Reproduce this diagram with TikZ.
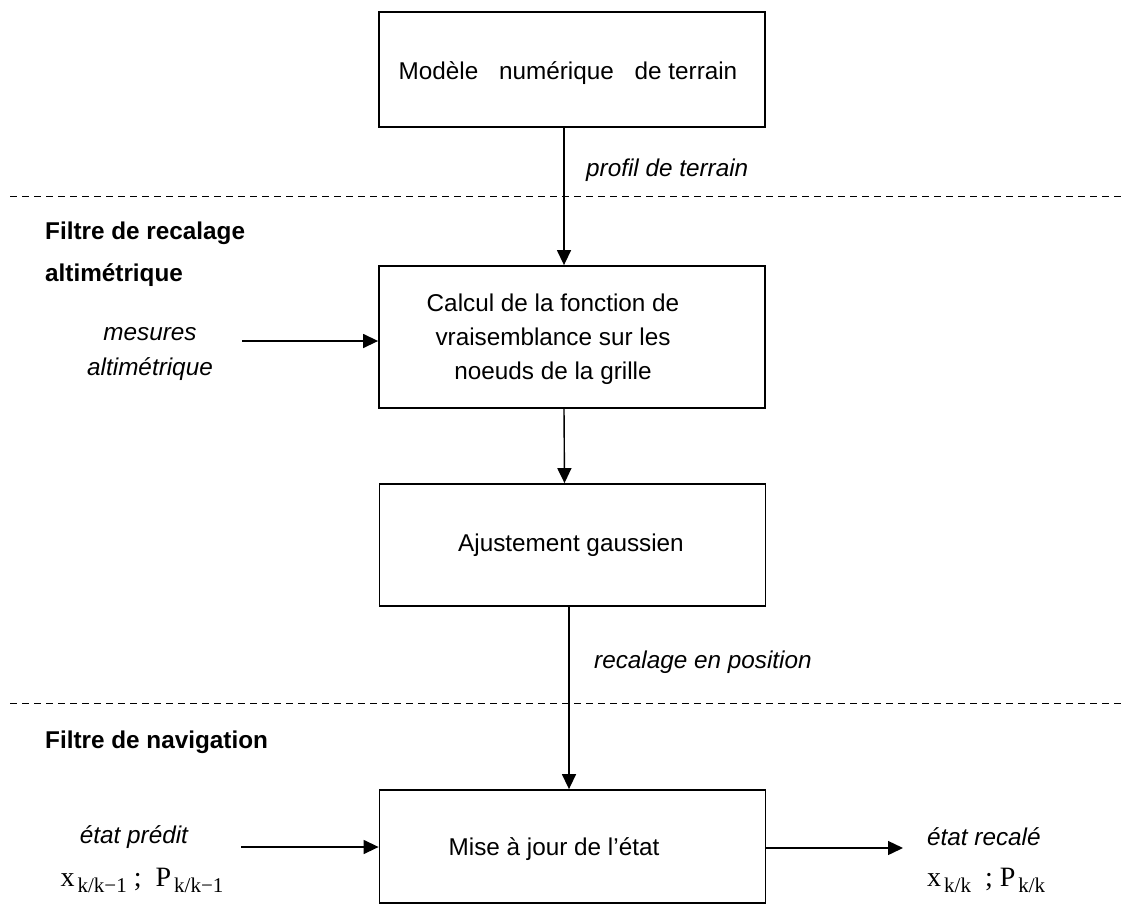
\documentclass[tikz,border=0pt]{standalone}
\usepackage{fontspec}
\setmainfont{Liberation Sans}
\newfontfamily\serifmath{Liberation Serif}
\usetikzlibrary{arrows.meta}
\newcommand{\mainfs}{\fontsize{24.3}{34}\selectfont}
\newcommand{\mathfs}{\serifmath\fontsize{28}{28}\selectfont}
\newcommand{\mth}[2]{#1\hspace{3pt}\raisebox{-6pt}{\fontsize{21}{21}\selectfont #2}}
\begin{document}
\begin{tikzpicture}[x=1pt,y=-1pt,
  box/.style={draw, line width=1.8pt, minimum width=386pt, inner sep=0pt},
  txt/.style={font=\mainfs, inner sep=0pt, align=center},
  lbl/.style={font=\mainfs\itshape, inner sep=0pt, align=center},
  ttl/.style={font=\mainfs\bfseries, inner sep=0pt, anchor=west},
  mathlbl/.style={font=\mathfs, inner sep=0pt},
  arr/.style={-{Triangle[length=15pt,width=14pt]}, line width=1.4pt},
  sep/.style={dash pattern=on 7pt off 5pt, line width=0.9pt},
]
\useasboundingbox (0,0) rectangle (1130,905);

% boxes
\node[box, minimum height=115pt] (b1) at (572,69.5) {};
\node[box, minimum height=142pt] (b2) at (572,337) {};
\node[box, minimum height=122pt] (b3) at (572.5,545) {};
\node[box, minimum height=113pt] (b4) at (572.5,846.5) {};

% box texts
\node[txt] (t1) at (568,73) {Modèle\hspace{14pt} numérique\hspace{14pt} de terrain};
\node[txt] (t2) at (553,339) {Calcul de la fonction de\\vraisemblance sur les\\noeuds de la grille};
\node[txt] (t3) at (571,545) {Ajustement gaussien};
\node[txt] (t4) at (554,849) {Mise à jour de l’état};

% separators
\coordinate (s1a) at (10,196);
\coordinate (s1b) at (1122,196);
\coordinate (s2a) at (10,703);
\coordinate (s2b) at (1122,703);
\draw[sep] (s1a) -- (s1b);
\draw[sep] (s2a) -- (s2b);

% section titles
\node[ttl] (f1) at (45,233) {Filtre de recalage};
\node[ttl] (f2) at (45,275) {altimétrique};
\node[ttl] (f3) at (45,742) {Filtre de navigation};

% vertical arrows
\draw[arr] ([xshift=-8pt]b1.south) -- ([xshift=-8pt]b2.north);
\draw[arr] ([xshift=-8pt]b2.south) -- ([xshift=-8pt]b3.north);
\draw[arr] ([xshift=-3.5pt]b3.south) -- ([xshift=-3.5pt]b4.north);
\node[lbl, anchor=west] (l1) at (586,170) {profil de terrain};
\node[lbl, anchor=west] (l2) at (594,662) {recalage en position};

% measures input
\coordinate (m0) at (242,341);
\draw[arr] (m0) -- (m0 -| b2.west);
\node[lbl] (m1) at (150,334) {mesures};
\node[lbl] (m2) at (150,369) {altimétrique};

% predicted state input
\coordinate (p0) at (241,847);
\draw[arr] (p0) -- (p0 -| b4.west);
\node[lbl] (p1) at (134,837) {état prédit};
\node[mathlbl] (p2) at (142,880) {\mth{x}{k/k−1}\ ;\ \ \mth{P}{k/k−1}};

% corrected state output
\coordinate (r0) at (903,848);
\draw[arr] (b4.east |- r0) -- (r0);
\node[lbl, anchor=west] (r1) at (927,837) {état recalé};
\node[mathlbl, anchor=west] (r2) at (927,880) {\mth{x}{k/k}\ \ ;\ \mth{P}{k/k}};
\end{tikzpicture}
\end{document}
